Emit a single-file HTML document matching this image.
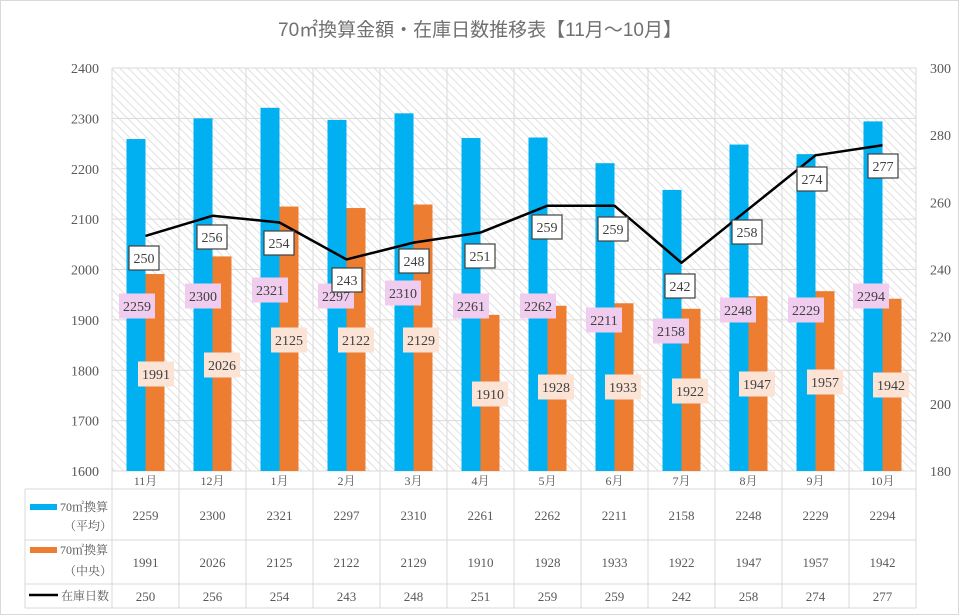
<!DOCTYPE html>
<html><head><meta charset="utf-8">
<style>
html,body{margin:0;padding:0;background:#fff;}
svg{display:block;}
text{font-family:"Liberation Serif","Noto Serif CJK JP",serif;fill:#595959;}
</style></head>
<body>
<svg id="s" width="960" height="616" viewBox="0 0 960 616" xmlns="http://www.w3.org/2000/svg">
<defs>
<pattern id="h" width="6" height="6" patternUnits="userSpaceOnUse" patternTransform="rotate(-45)">
<rect width="6" height="6" fill="#fff"/>
<line x1="0" y1="0" x2="0" y2="6" stroke="#d9d9d9" stroke-width="1.6"/>
</pattern>
</defs>
<rect x="0.5" y="0.5" width="958" height="614" fill="#fff" stroke="#d9d9d9"/>
<text x="480" y="36" text-anchor="middle" font-size="19" style="font-family:'Liberation Sans','Noto Sans CJK JP',sans-serif;fill:#707070">70㎡換算金額・在庫日数推移表【11月～10月】</text>
<rect x="112" y="68" width="804" height="403" fill="url(#h)"/>
<g id="g"></g>
</svg>
<script>
var g=document.getElementById('g');var out='';
var L=112,R=916,T=68,B=471,W=(R-L)/12;
var m=['11月','12月','1月','2月','3月','4月','5月','6月','7月','8月','9月','10月'];
var a=[2259,2300,2321,2297,2310,2261,2262,2211,2158,2248,2229,2294];
var o=[1991,2026,2125,2122,2129,1910,1928,1933,1922,1947,1957,1942];
var d=[250,256,254,243,248,251,259,259,242,258,274,277];
var bl=[[137,306],[203,296],[270,290],[336,296],[403,293],[471,306],[538,306],[604,320],[671,331],[738,310],[806,310],[871,296]];
var ol=[[156,374],[222,365],[289,340],[356,340],[421,340],[490,394],[556,387],[623,387],[690,391],[757,384],[825,382],[891,385]];
var ll=[[144,258],[212,237],[279,243],[347,280],[414,261],[480,256],[547,227],[613,229],[680,286],[747,232],[812,179],[883,166]];
function yl(v){return B-(v-1600)*(B-T)/800;}
function yr(v){return B-(v-180)*(B-T)/120;}
for(var i=0;i<=8;i++){var y=B-i*(B-T)/8;out+='<line x1="'+L+'" x2="'+R+'" y1="'+y+'" y2="'+y+'" stroke="#d9d9d9"/>';
out+='<text x="99" y="'+(y+5)+'" text-anchor="end" font-size="14">'+(1600+i*100)+'</text>';}
for(var i=0;i<=6;i++){var y=B-i*(B-T)/6;out+='<text x="930" y="'+(y+5)+'" font-size="14">'+(180+i*20)+'</text>';}
var rows=[489,540,584,608];
for(var i=0;i<=12;i++){var x=L+i*W;out+='<line x1="'+x+'" x2="'+x+'" y1="'+T+'" y2="608" stroke="#d9d9d9"/>';}
out+='<line x1="25" x2="25" y1="489" y2="608" stroke="#d9d9d9"/>';
rows.forEach(function(y){out+='<line x1="25" x2="'+R+'" y1="'+y+'" y2="'+y+'" stroke="#d9d9d9"/>';});
out+='<line x1="'+L+'" x2="'+R+'" y1="'+B+'" y2="'+B+'" stroke="#d9d9d9"/>';
for(var i=0;i<12;i++){var x0=L+i*W;
out+='<rect x="'+(x0+14.5)+'" y="'+yl(a[i])+'" width="19" height="'+(B-yl(a[i]))+'" fill="#00b0f0"/>';
out+='<rect x="'+(x0+33.5)+'" y="'+yl(o[i])+'" width="19" height="'+(B-yl(o[i]))+'" fill="#ed7d31"/>';
var c=x0+W/2;
out+='<text x="'+c+'" y="485" text-anchor="middle" font-size="12">'+m[i]+'</text>';
out+='<text x="'+c+'" y="520" text-anchor="middle" font-size="13">'+a[i]+'</text>';
out+='<text x="'+c+'" y="567" text-anchor="middle" font-size="13">'+o[i]+'</text>';
out+='<text x="'+c+'" y="601" text-anchor="middle" font-size="13">'+d[i]+'</text>';}
var p='';for(var i=0;i<12;i++){p+=(L+i*W+W/2)+','+yr(d[i])+' ';}
out+='<polyline points="'+p+'" fill="none" stroke="#000" stroke-width="2.5" stroke-linejoin="round"/>';
function lab(c,t,bg){var w=36,h=25;out+='<rect x="'+(c[0]-w/2)+'" y="'+(c[1]-h/2)+'" width="'+w+'" height="'+h+'" fill="'+bg+'"/>';
out+='<text x="'+c[0]+'" y="'+(c[1]+5)+'" text-anchor="middle" font-size="14" style="fill:#404040">'+t+'</text>';}
for(var i=0;i<12;i++){lab(bl[i],a[i],'#f0cdef');}
for(var i=0;i<12;i++){lab(ol[i],o[i],'#fbe3d6');}
for(var i=0;i<12;i++){var c=ll[i];var w=30,h=24;out+='<rect x="'+(c[0]-w/2)+'" y="'+(c[1]-h/2)+'" width="'+w+'" height="'+h+'" fill="#fff" stroke="#404040" stroke-width="1.2"/>';
out+='<text x="'+c[0]+'" y="'+(c[1]+5)+'" text-anchor="middle" font-size="14" style="fill:#404040">'+d[i]+'</text>';}
out+='<rect x="30" y="504" width="27" height="6" fill="#00b0f0"/><text x="60" y="511" font-size="12">70㎡換算</text><text x="64" y="530" font-size="12">（平均）</text>';
out+='<rect x="30" y="547" width="27" height="6" fill="#ed7d31"/><text x="60" y="554" font-size="12">70㎡換算</text><text x="64" y="575" font-size="12">（中央）</text>';
out+='<line x1="29" x2="58" y1="595" y2="595" stroke="#000" stroke-width="2.5"/><text x="61" y="600" font-size="12">在庫日数</text>';
g.innerHTML=out;
</script>
</body></html>
